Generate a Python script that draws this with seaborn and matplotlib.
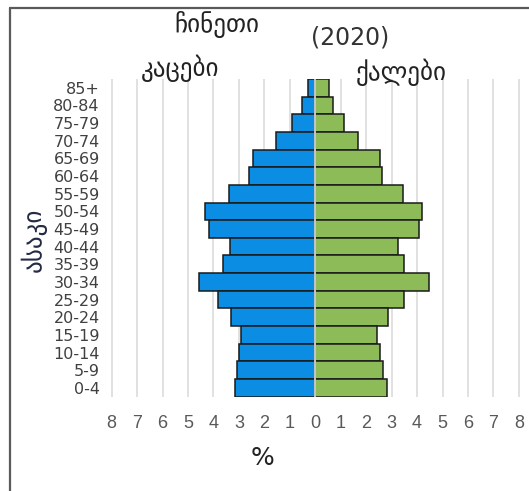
import matplotlib
matplotlib.use("Agg")
import matplotlib.pyplot as plt
import seaborn as sns
import numpy as np
import pandas as pd
from matplotlib.lines import Line2D

# ---- data ----
age_groups = ["85+", "80-84", "75-79", "70-74", "65-69", "60-64", "55-59", "50-54",
              "45-49", "40-44", "35-39", "30-34", "25-29", "20-24", "15-19",
              "10-14", "5-9", "0-4"]
men = [0.30, 0.51, 0.92, 1.54, 2.43, 2.60, 3.41, 4.34, 4.17, 3.37, 3.63, 4.58,
       3.82, 3.31, 2.90, 3.00, 3.07, 3.14]
women = [0.54, 0.70, 1.11, 1.69, 2.56, 2.62, 3.44, 4.20, 4.07, 3.24, 3.49, 4.48,
         3.49, 2.85, 2.44, 2.55, 2.67, 2.80]
x_ticks = [-8, -7, -6, -5, -4, -3, -2, -1, 0, 1, 2, 3, 4, 5, 6, 7, 8]
x_tick_labels = [str(abs(t)) for t in x_ticks]

title_country = "ჩინეთი"
title_year = "(2020)"
label_men = "კაცები"
label_women = "ქალები"
label_age = "ასაკი"
label_pct = "%"

blue = "#0a8de2"
green = "#8cbb58"
edge = "#1a1a1a"
text_col = "#404040"

sns.set_theme(style="white")
plt.rcParams["font.family"] = ["DejaVu Sans"]

W, H = 529, 491
fig = plt.figure(figsize=(W / 100, H / 100), dpi=100)
ax_left = 106.6 / W
ax_right = 524.0 / W
ax_top = 1 - 79.0 / H
ax_bot = 1 - 396.7 / H
ax = fig.add_axes([ax_left, ax_bot, ax_right - ax_left, ax_top - ax_bot])

df = pd.DataFrame({"age": age_groups, "men": [-v for v in men], "women": women})

# gridlines
for t in x_ticks:
    ax.axvline(t, color="#d9d9d9", lw=1.1, zorder=0)

sns.barplot(data=df, x="men", y="age", orient="h", color=blue, saturation=1,
            edgecolor=edge, linewidth=1.1, width=1.0, ax=ax, zorder=2)
sns.barplot(data=df, x="women", y="age", orient="h", color=green, saturation=1,
            edgecolor=edge, linewidth=1.1, width=1.0, ax=ax, zorder=2)
ax.axvline(0, color="#dce3ea", lw=1.2, zorder=3)

ax.set_xlim(-8.2, 8.2)
ax.set_ylim(len(age_groups) - 0.5, -0.5)
ax.set_xticks(x_ticks)
ax.set_xticklabels(x_tick_labels, fontsize=13, color="#595959",
                   family=["Liberation Sans", "DejaVu Sans"])
ax.tick_params(axis="x", length=0, pad=13)
ax.tick_params(axis="y", length=0, pad=5, labelsize=11.5, labelcolor=text_col)
ax.set_xlabel("")
ax.set_ylabel("")
for s in ax.spines.values():
    s.set_visible(False)

# texts
def fx(px):
    return px / W

def fy(py):
    return 1 - py / H

fig.text(fx(217), fy(25), title_country, ha="center", va="center", fontsize=18, color="#222222")
fig.text(fx(350), fy(37), title_year, ha="center", va="center", fontsize=17, color="#333333")
fig.text(fx(180), fy(68), label_men, ha="center", va="center", fontsize=18, color="#222222")
fig.text(fx(401), fy(72), label_women, ha="center", va="center", fontsize=18, color="#222222")
fig.text(fx(34), fy(240), label_age, ha="center", va="center", fontsize=18, rotation=90,
         color="#222a44")
fig.text(fx(263), fy(458), label_pct, ha="center", va="center", fontsize=18, color="#222222")

# frame (top and left)
fig.add_artist(Line2D([fx(9.5), 1], [fy(8), fy(8)], color="#5a5a5a", lw=1.6))
fig.add_artist(Line2D([fx(9.5), fx(9.5)], [0, fy(8)], color="#5a5a5a", lw=1.6))

fig.savefig("out.png", dpi=100)
